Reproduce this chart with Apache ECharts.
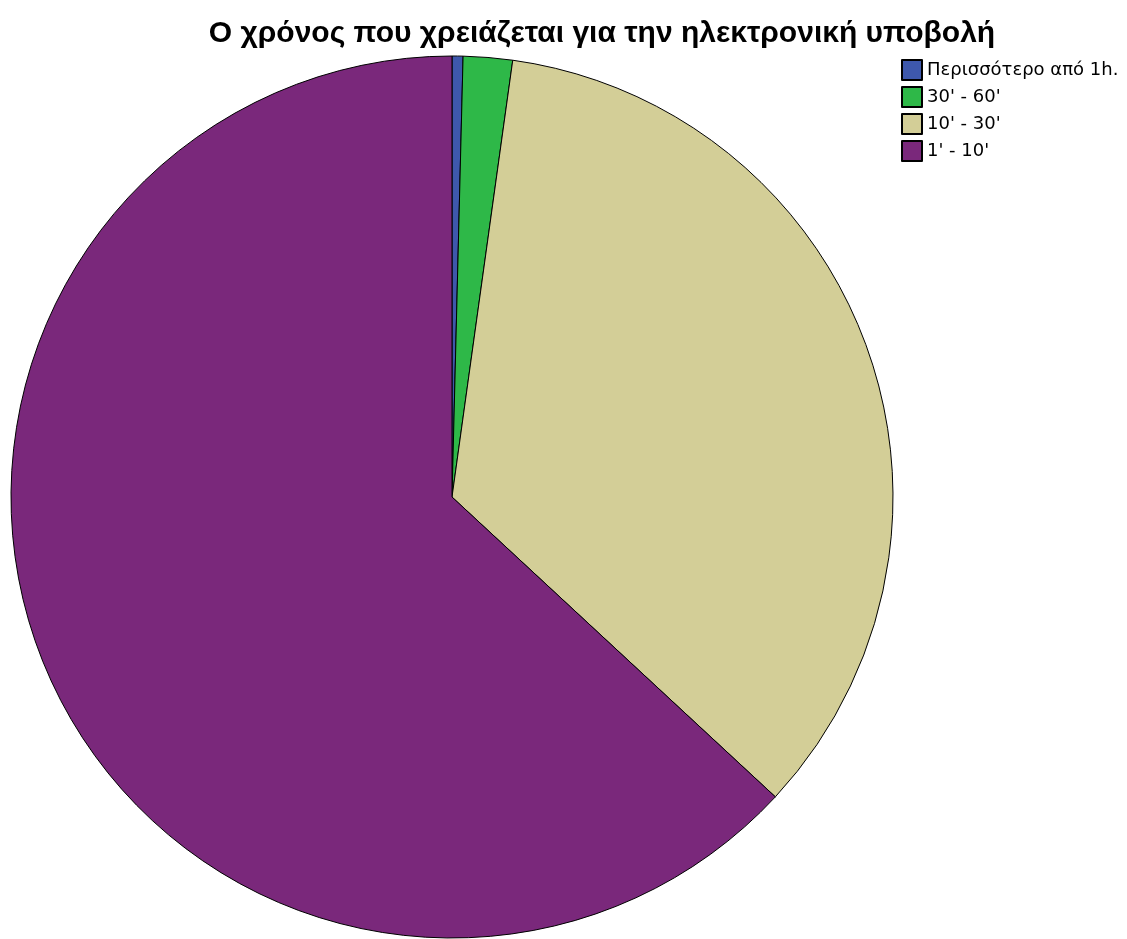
<!DOCTYPE html>
<html>
<head>
<meta charset="utf-8">
<script src="https://cdn.jsdelivr.net/npm/echarts@6/dist/echarts.min.js"></script>
<style>
  html, body { margin: 0; padding: 0; background: #fff; }
  #chart { width: 1127px; height: 939px; }
</style>
</head>
<body>
<div id="chart"></div>
<script>
// values (percent of answers)
var categories = ['Περισσότερο από 1h.', "30' - 60'", "10' - 30'", "1' - 10'"];
var percents = [0.4, 1.8, 34.7, 63.1];
var colorList = ['#3E58AC', '#2EB848', '#D3CE97', '#7A287B'];

var myChart = echarts.init(document.getElementById('chart'));

var option = {
    animation: false,
    title: {
        text: 'Ο χρόνος που χρειάζεται για την ηλεκτρονική υποβολή',
        left: 597,
        top: 14,
        textAlign: 'center',
        textStyle: {
            fontFamily: 'Liberation Sans, Arial, sans-serif',
            fontSize: 30,
            fontWeight: 'bold',
            color: '#000'
        }
    },
    legend: {
        orient: 'vertical',
        left: 901,
        top: 59,
        padding: 0,
        itemWidth: 20,
        itemHeight: 20,
        itemGap: 5,
        icon: 'rect',
        data: categories,
        textStyle: {
            fontFamily: 'DejaVu Sans, sans-serif',
            fontSize: 18,
            lineHeight: 20,
            color: '#000'
        }
    },
    series: [{
        type: 'pie',
        center: [452, 497],
        radius: [0, 441],
        startAngle: 90,
        clockwise: true,
        label: { show: false },
        labelLine: { show: false },
        emphasis: { disabled: true },
        itemStyle: {
            borderColor: '#000',
            borderWidth: 1
        },
        data: categories.map(function (name, i) {
            return {
                name: name,
                value: percents[i],
                itemStyle: { color: colorList[i] }
            };
        })
    }]
};

myChart.setOption(option);
</script>
</body>
</html>
